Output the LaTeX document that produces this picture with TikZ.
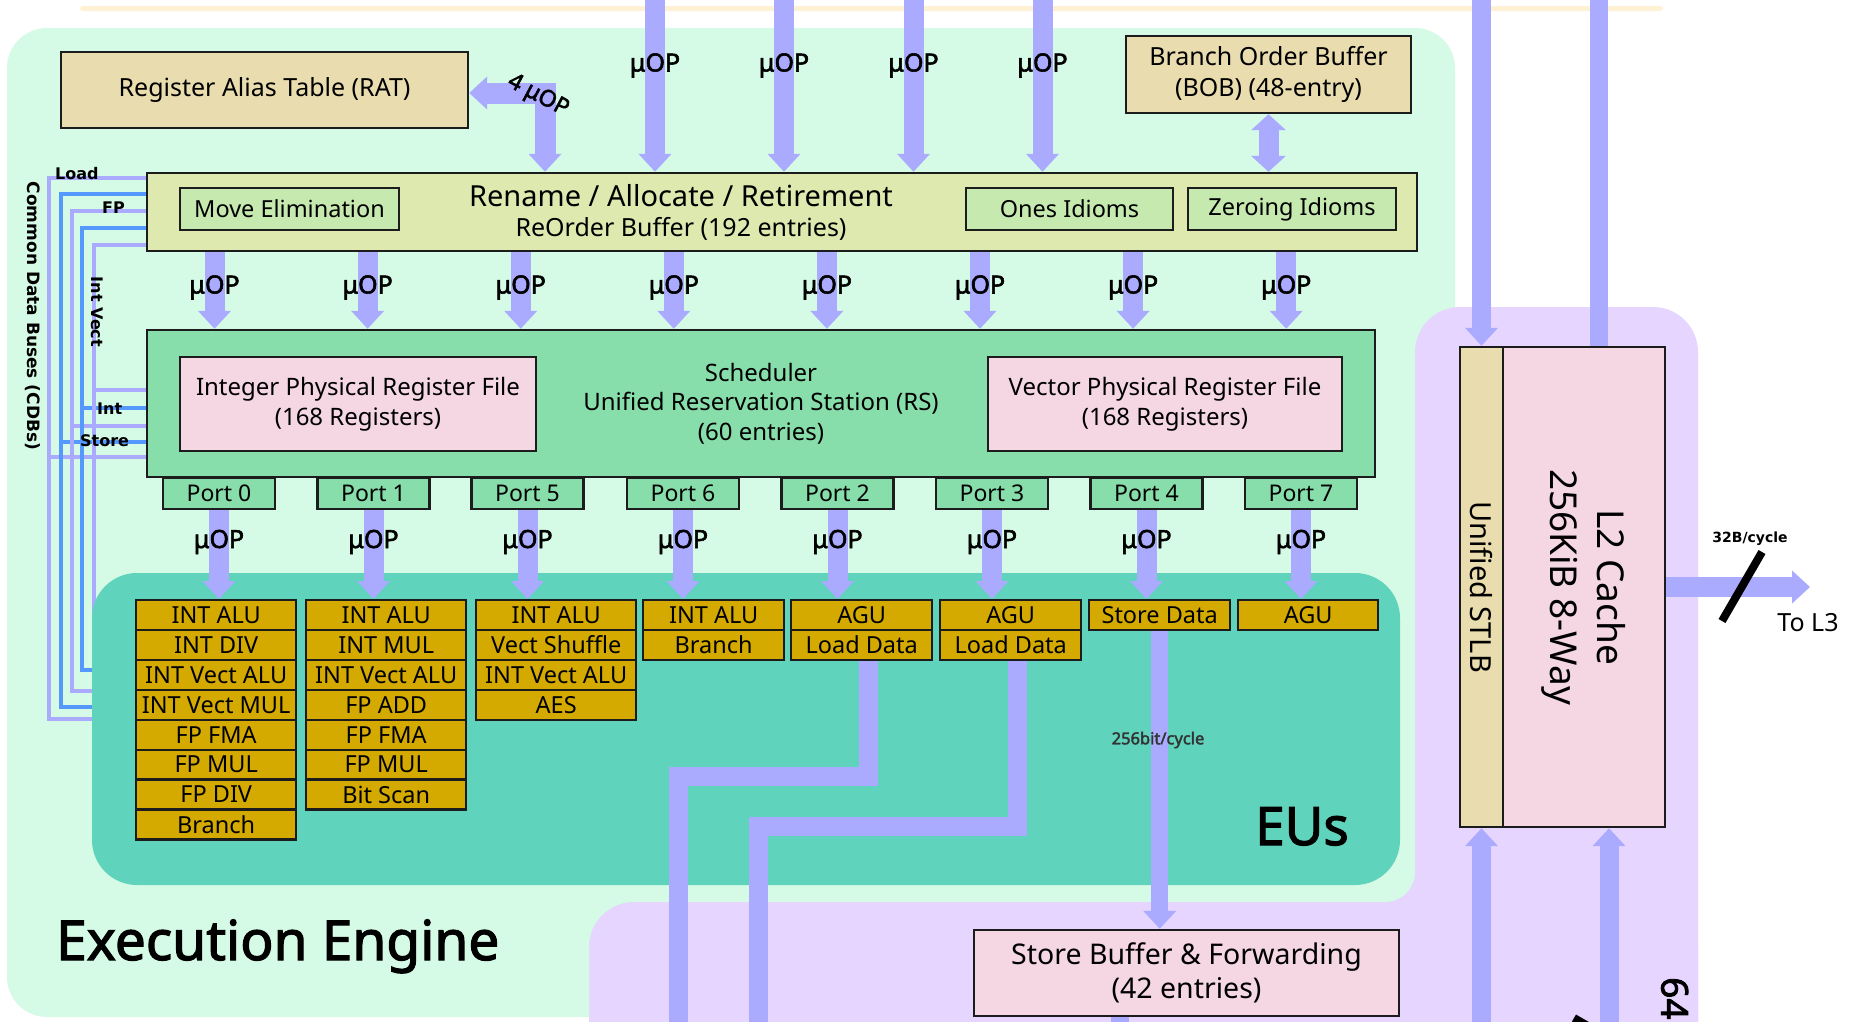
\documentclass[tikz,border=0pt]{standalone}
\usepackage{fontspec}
\setmainfont{Noto Sans}[AutoFakeBold=2.2]
\newfontfamily\dejavu{DejaVu Sans}
\usetikzlibrary{arrows.meta}
\newcommand\fsz[2]{\fontsize{#1}{#2}\selectfont}

\definecolor{eebg}{RGB}{213,251,230}
\definecolor{memb}{RGB}{229,213,255}
\definecolor{eubg}{RGB}{95,211,188}
\definecolor{tanf}{RGB}{233,221,175}
\definecolor{renfill}{RGB}{221,233,175}
\definecolor{idiom}{RGB}{198,233,175}
\definecolor{sched}{RGB}{135,222,170}
\definecolor{pinkf}{RGB}{244,215,227}
\definecolor{gold}{RGB}{212,170,0}
\definecolor{flow}{RGB}{170,170,255}
\definecolor{bus}{RGB}{85,153,255}
\definecolor{cream}{RGB}{255,241,212}
\definecolor{edge}{RGB}{28,28,28}

\pgfdeclarelayer{back}
\pgfdeclarelayer{buses}
\pgfdeclarelayer{units}
\pgfdeclarelayer{flows}
\pgfsetlayers{back,buses,units,flows,main}

\tikzset{
  blk/.style={draw=edge, line width=2.4pt, inner sep=0pt, align=center},
  tanbox/.style={blk, fill=tanf},
  pinkbox/.style={blk, fill=pinkf},
  idbox/.style={blk, fill=idiom, minimum height=42pt, font=\fsz{23.5}{28}},
  eu/.style={blk, fill=gold, minimum height=29.9pt, anchor=north west, font=\fsz{23.5}{28}},
  port/.style={blk, fill=sched, minimum width=112pt, minimum height=31pt, font=\fsz{23}{28}},
  fat/.style={draw=flow, line width=20pt, line join=miter},
  uop/.style={fat, ->},
  uopboth/.style={fat, <->},
  uoplbl/.style={font=\bfseries\fsz{25}{30}, inner sep=0pt, anchor=base},
  cdbp/.style={draw=flow, line width=4.5pt},
  cdbb/.style={draw=bus, line width=4pt},
  buslbl/.style={font=\dejavu\bfseries\fsz{16}{19}, inner sep=0pt},
}

\begin{document}
\begin{tikzpicture}[x=1pt, y=-1pt, >={Triangle[width=32pt,length=18pt]}]
\useasboundingbox (0,0) rectangle (1856,1021);

% ---------- background regions ----------
\begin{pgfonlayer}{back}
  \clip (0,0) rectangle (1856,1021);
  \fill[white] (0,0) rectangle (1856,1021);
  \fill[cream, rounded corners=3pt] (80,6) rectangle (1663,11);
  \fill[eebg, rounded corners=40pt] (7,28) rectangle (1455,1017);
  \fill[memb, rounded corners=45pt] (589,902) rectangle (1698,1070);
  \fill[memb, rounded corners=45pt] (1415,307) rectangle (1698,1070);
  \fill[memb] (1385,872) rectangle (1415,902);
  \fill[eebg] (1385,872) circle[radius=30pt];
\end{pgfonlayer}

\begin{scope}
\clip (0,0) rectangle (1856,1021);

% ---------- front part of the engine ----------
\node[tanbox, minimum width=407pt, minimum height=76pt, font=\fsz{25}{30}] (rat) at (264.5,90) {Register Alias Table (RAT)};
\node[tanbox, minimum width=285pt, minimum height=77pt, font=\fsz{25}{31}] (bob) at (1268.5,74.5) {Branch Order Buffer\\(BOB) (48-entry)};

\node[blk, fill=renfill, minimum width=1270pt, minimum height=78pt] (ren) at (782,212) {};
\node[idbox, minimum width=219pt] (mov) at (289.5,209) {Move Elimination};
\node[idbox, minimum width=207pt] (ones) at (1069.5,209) {Ones Idioms};
\node[idbox, minimum width=208pt] (zero) at (1292,209) {Zeroing Idioms};
\node[anchor=base, inner sep=0pt, font=\fsz{29}{34}] (rentitle) at (681,206.5) {Rename / Allocate / Retirement};
\node[anchor=base, inner sep=0pt, font=\fsz{25}{30}] (rob) at (681,236) {ReOrder Buffer (192 entries)};

% ---------- scheduler ----------
\node[blk, fill=sched, minimum width=1228pt, minimum height=147pt, font=\fsz{24}{29.5}] (sch) at (761,403.5) {Scheduler\\Unified Reservation Station (RS)\\(60 entries)};
\node[pinkbox, minimum width=356pt, minimum height=94pt, font=\fsz{24}{30}] (iprf) at (358,404) {Integer Physical Register File\\(168 Registers)};
\node[pinkbox, minimum width=354pt, minimum height=94pt, font=\fsz{24}{30}] (vprf) at (1165,404) {Vector Physical Register File\\(168 Registers)};

\foreach \x/\n [count=\i] in {219/0,373.5/1,527.5/5,683/6,837.5/2,992/3,1146.5/4,1301/7}
  \node[port] (p\i) at (\x,493.5) {Port \n};

% ---------- execution units ----------
\foreach \t [count=\i from 0] in {INT ALU,INT DIV,INT Vect ALU,INT Vect MUL,FP FMA,FP MUL,FP DIV,Branch}
  \node[eu, minimum width=160pt] (e1-\i) at (135,599+29.9*\i) {\t};
\foreach \t [count=\i from 0] in {INT ALU,INT MUL,INT Vect ALU,FP ADD,FP FMA,FP MUL,Bit Scan}
  \node[eu, minimum width=160pt] (e2-\i) at (305,599+29.9*\i) {\t};
\foreach \t [count=\i from 0] in {INT ALU,Vect Shuffle,INT Vect ALU,AES}
  \node[eu, minimum width=160pt] (e3-\i) at (475,599+29.9*\i) {\t};
\foreach \t [count=\i from 0] in {INT ALU,Branch}
  \node[eu, minimum width=141pt] (e4-\i) at (642,599+29.9*\i) {\t};
\foreach \t [count=\i from 0] in {AGU,Load Data}
  \node[eu, minimum width=141pt] (e5-\i) at (790,599+29.9*\i) {\t};
\foreach \t [count=\i from 0] in {AGU,Load Data}
  \node[eu, minimum width=141pt] (e6-\i) at (939,599+29.9*\i) {\t};
\node[eu, minimum width=141pt] (e7-0) at (1088,599) {Store Data};
\node[eu, minimum width=140pt] (e8-0) at (1237,599) {AGU};

% ---------- memory side ----------
\node[pinkbox, minimum width=425pt, minimum height=86pt, font=\fsz{28.5}{34}] (sb) at (1186.5,973) {Store Buffer \& Forwarding\\(42 entries)};
\node[tanbox, minimum width=43pt, minimum height=480pt] (stlb) at (1481.5,587) {};
\node[pinkbox, minimum width=162pt, minimum height=480pt] (l2) at (1584,587) {};
\node[rotate=-90, inner sep=0pt, font=\fsz{29}{34}] (stlbtxt) at (stlb.center) {Unified STLB};
\node[rotate=-90, align=center, inner sep=0pt, font=\fsz{37}{47}] (l2txt) at (l2.center) {L2 Cache\\256KiB 8-Way};

% ---------- labels ----------
\foreach \x in {655,784,913.5,1042.5}
  \node[uoplbl] at (\x,71.5) {μOP};
\foreach \i in {0,...,7}
  \node[uoplbl] at (214.5+153.1*\i,293.5) {μOP};
\foreach \i in {1,...,8}
  \node[uoplbl] at (p\i.south |- 0,548) {μOP};
\node[font=\bfseries\fsz{23}{26}, rotate=-28, inner sep=0pt] (fouruop) at (538,96) {4 μOP};

\node[buslbl, anchor=base west] (lload) at (55,179.5) {Load};
\node[buslbl, anchor=base west] (lfp) at (102,213) {FP};
\node[buslbl, anchor=base west] (lint) at (97,414) {Int};
\node[buslbl, anchor=base west] (lstore) at (80,446) {Store};
\node[buslbl, rotate=-90] (lvect) at (97,312) {Int Vect};
\node[font=\dejavu\bfseries\fsz{17}{20}, inner sep=0pt, rotate=-90] (cdbs) at (33,316) {Common Data Buses (CDBs)};

\node[font=\bfseries\fsz{16.5}{19}, text=black!80, inner sep=0pt] (sdrate) at (1158,740) {256bit/cycle};
\node[font=\dejavu\bfseries\fsz{14}{17}, inner sep=0pt] (l3rate) at (1750,539) {32B/cycle};
\node[font=\fsz{25}{30}, inner sep=0pt] (tol3) at (1808,623) {To L3};
\node[font=\bfseries\fsz{37}{40}, rotate=-90, anchor=west, inner sep=0pt] (memrate) at (1671,977) {64B/cycle};

\node[anchor=base west, inner sep=0pt, font=\bfseries\fsz{55}{60}] (eetitle) at (56,960) {Execution Engine};
\node[anchor=base west, inner sep=0pt, font=\bfseries\fsz{53}{60}] (eutitle) at (1255,845) {EUs};
\end{scope}

% ---------- common data buses ----------
\begin{pgfonlayer}{buses}
  \clip (0,0) rectangle (1856,1021);
  \draw[cdbp] (ren.west |- 0,178) -| (49,719) -- (110,719);
  \draw[cdbp] (49,457) -- (sch.west |- 0,457);
  \draw[cdbb] (ren.west |- 0,194) -| (61,707) -- (110,707);
  \draw[cdbb] (61,442) -- (sch.west |- 0,442);
  \draw[cdbp] (ren.west |- 0,211) -| (72,691) -- (110,691);
  \draw[cdbp] (72,426) -- (sch.west |- 0,426);
  \draw[cdbb] (ren.west |- 0,228) -| (82,670) -- (110,670);
  \draw[cdbb] (82,408) -- (sch.west |- 0,408);
  \draw[cdbp] (ren.west |- 0,245) -| (94,653) -- (110,653);
  \draw[cdbp] (94,390) -- (sch.west |- 0,390);
\end{pgfonlayer}

% ---------- execution unit area ----------
\begin{pgfonlayer}{units}
  \fill[eubg, rounded corners=45pt] (92,573) rectangle (1400,885);
\end{pgfonlayer}

% ---------- micro-op and data flows ----------
\begin{pgfonlayer}{flows}
  \clip (0,0) rectangle (1856,1021);
  \foreach \x [count=\i] in {655,784,913.5,1042.5} {
    \coordinate (fe\i) at (\x,-4);
    \draw[uop] (fe\i) -- (ren.north -| fe\i);
  }
  \draw[uopboth, line width=21pt] (rat.east |- 0,93) -- (545,93) -- (ren.north -| 545,0);
  \draw[uopboth, >={Triangle[width=34pt,length=16pt]}] (bob.south) -- (bob.south |- ren.north);
  \foreach \i in {0,...,7}
    \draw[uop] (ren.south -| 214.5+153.1*\i,0) -- (sch.north -| 214.5+153.1*\i,0);
  \foreach \i in {1,...,8}
    \draw[uop] (p\i.south) -- (p\i.south |- e\i-0.north);

  \coordinate (ld1) at (678,1030);
  \coordinate (ld2) at (758,1030);
  \coordinate (sbout) at (1120,1030);
  \draw[fat, line width=19pt] (868,0 |- e5-1.south) |- (678,776) -- (ld1);
  \draw[fat, line width=19pt] (1017,0 |- e6-1.south) |- (758,826) -- (ld2);
  \draw[uop, line width=17pt] (e7-0.south) -- (e7-0.south |- sb.north);
  \draw[fat, line width=18pt] (sbout |- sb.south) -- (sbout);

  \coordinate (tl2a) at (1481.5,-4);
  \coordinate (tl2b) at (1599,-4);
  \coordinate (bl2a) at (1481.5,1030);
  \coordinate (bl2b) at (1609,1030);
  \coordinate (l3end) at (1810,587);
  \draw[uop, line width=19pt] (tl2a) -- (stlb.north);
  \draw[fat, line width=18pt] (tl2b) -- (tl2b |- l2.north);
  \draw[uop, line width=19pt] (bl2a) -- (stlb.south);
  \draw[uop, line width=19pt] (bl2b) -- (bl2b |- l2.south);
  \draw[uop] (l2.east) -- (l3end);
  \draw[line width=8pt] (1722,621) -- (1762,552);
  \draw[line width=8pt] (1574,1018) -- (1650,1062);
\end{pgfonlayer}
\end{tikzpicture}
\end{document}
